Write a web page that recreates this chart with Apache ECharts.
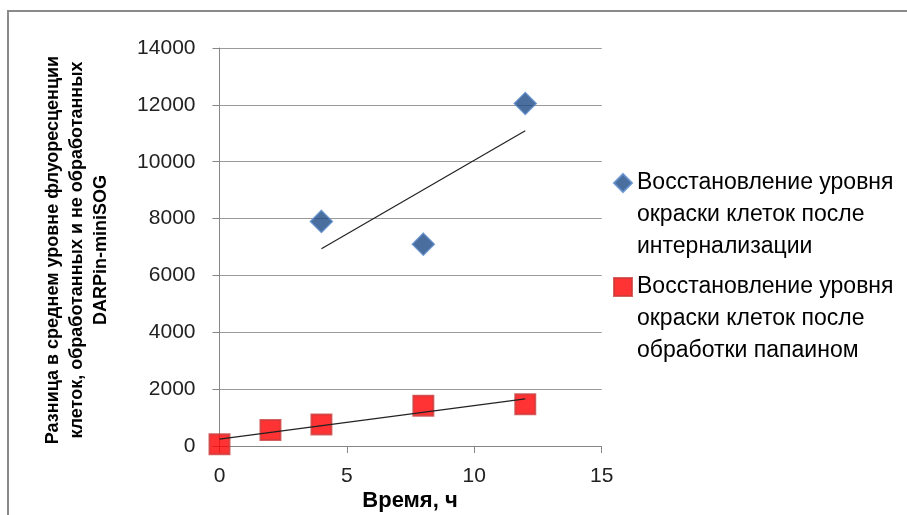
<!DOCTYPE html>
<html>
<head>
<meta charset="utf-8">
<script src="https://cdn.jsdelivr.net/npm/echarts@6/dist/echarts.min.js"></script>
<style>
  html, body { margin: 0; padding: 0; background: #fff; }
  #chart { width: 907px; height: 515px; }
</style>
</head>
<body>
<div id="chart"></div>
<script>
// Time points (hours) and measured differences for each treatment
const internalHours = [4, 8, 12];
const internalValues = [7900, 7100, 12050];

const papainHours = [0, 2, 4, 8, 12];
const papainValues = [60, 560, 760, 1420, 1470];

const seriesNames = [
  'Восстановление уровня\nокраски клеток после\nинтернализации',
  'Восстановление уровня\nокраски клеток после\nобработки папаином'
];

const xTicks = { min: 0, max: 15, interval: 5 };
const yTicks = { min: 0, max: 14000, interval: 2000 };

const xTitle = 'Время, ч';
const yTitle = 'Разница в среднем уровне флуоресценции\nклеток, обработанных и не обработанных\nDARPin-miniSOG';

// Least-squares linear trend, evaluated at the first and last x of the series
function trend(xs, ys) {
  const n = xs.length;
  const mx = xs.reduce((a, b) => a + b, 0) / n;
  const my = ys.reduce((a, b) => a + b, 0) / n;
  let sxy = 0, sxx = 0;
  for (let i = 0; i < n; i++) {
    sxy += (xs[i] - mx) * (ys[i] - my);
    sxx += (xs[i] - mx) * (xs[i] - mx);
  }
  const k = sxy / sxx;
  const b = my - k * mx;
  const x0 = Math.min(...xs), x1 = Math.max(...xs);
  return [[x0, k * x0 + b], [x1, k * x1 + b]];
}

const pairs = (xs, ys) => xs.map((x, i) => [x, ys[i]]);

const FONT = '"Liberation Sans", Arial, sans-serif';
const chart = echarts.init(document.getElementById('chart'), null, { renderer: 'canvas' });

// Legend text is vertically centred on its icon; two leading blank lines
// put the icon level with the first line of each three-line label.
const LEGEND_LINE = 32;
const legendText = { fontFamily: FONT, fontSize: 23, color: '#000', lineHeight: LEGEND_LINE };
const legendFormatter = name => '\n\n' + name;

chart.setOption({
  animation: false,
  backgroundColor: '#fff',
  grid: { left: 219.5, right: 305.3, top: 48, bottom: 69, containLabel: false },
  xAxis: {
    type: 'value',
    min: xTicks.min, max: xTicks.max, interval: xTicks.interval,
    axisLine: { show: true, onZero: false, lineStyle: { color: '#868686', width: 1 } },
    axisTick: { show: true, inside: false, length: 7, lineStyle: { color: '#868686' } },
    splitLine: { show: false },
    axisLabel: { margin: 20, fontFamily: FONT, fontSize: 21, color: '#222',
                 formatter: v => String(v) }
  },
  yAxis: {
    type: 'value',
    min: yTicks.min, max: yTicks.max, interval: yTicks.interval,
    axisLine: { show: true, onZero: false, lineStyle: { color: '#868686', width: 1 } },
    axisTick: { show: true, inside: false, length: 7, lineStyle: { color: '#868686' } },
    splitLine: { show: true, lineStyle: { color: '#9a9a9a', width: 1 } },
    axisLabel: { margin: 24, fontFamily: FONT, fontSize: 21, color: '#222',
                 formatter: v => String(v) }
  },
  legend: [
    {
      data: [seriesNames[0]],
      orient: 'vertical', left: 613, top: 183 - 2.5 * LEGEND_LINE, padding: 0,
      itemWidth: 18, itemHeight: 18, itemGap: 0,
      icon: 'diamond', formatter: legendFormatter,
      textStyle: legendText
    },
    {
      data: [seriesNames[1]],
      orient: 'vertical', left: 613, top: 287 - 2.5 * LEGEND_LINE, padding: 0,
      itemWidth: 18, itemHeight: 18, itemGap: 0,
      icon: 'rect', formatter: legendFormatter,
      textStyle: legendText
    }
  ],
  graphic: [
    {
      type: 'rect', silent: true,
      shape: { x: 8, y: 11, width: 1000, height: 600 },
      style: { fill: 'none', stroke: '#8a8a8a', lineWidth: 2 }
    },
    {
      type: 'text', x: 410, y: 501, silent: true,
      style: { text: xTitle, font: 'bold 22px ' + FONT, fill: '#000',
               textAlign: 'center', textVerticalAlign: 'middle' }
    },
    {
      type: 'text', x: 77, y: 250, rotation: Math.PI / 2, silent: true,
      style: { text: yTitle, font: 'bold 18px ' + FONT, fill: '#000',
               textAlign: 'center', textVerticalAlign: 'middle', lineHeight: 24 }
    }
  ],
  series: [
    {
      name: seriesNames[0], type: 'scatter', symbol: 'diamond', symbolSize: 22,
      itemStyle: { color: '#1d4b87', borderColor: '#5a8ac8', borderWidth: 1.5 },
      data: pairs(internalHours, internalValues), z: 3
    },
    {
      name: seriesNames[1], type: 'scatter', symbol: 'rect', symbolSize: 20,
      itemStyle: { color: '#ff0000', borderColor: '#cc3a3a', borderWidth: 2 },
      data: pairs(papainHours, papainValues), z: 3
    },
    {
      name: 'trend-1', type: 'line', symbol: 'none', silent: true,
      lineStyle: { color: '#222', width: 1.2 },
      data: trend(internalHours, internalValues), z: 4
    },
    {
      name: 'trend-2', type: 'line', symbol: 'none', silent: true,
      lineStyle: { color: '#222', width: 1.2 },
      data: trend(papainHours, papainValues), z: 4
    }
  ]
});
</script>
</body>
</html>
